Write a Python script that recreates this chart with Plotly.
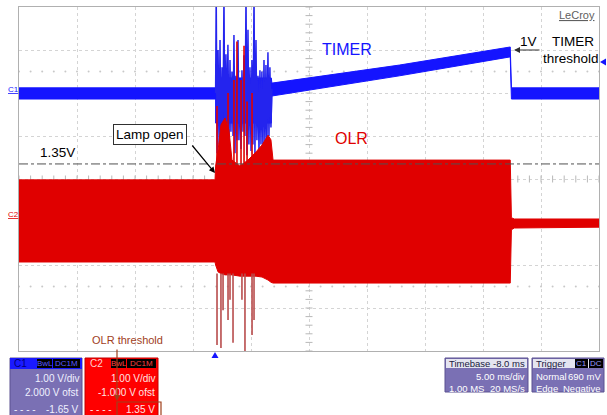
import plotly.graph_objects as go

# scope settings
C1_OFST = 2.0     # V, 1.00 V/div
C2_OFST = -1.0    # V, 1.00 V/div
T_LEFT, T_RIGHT = -17, 33   # ms, 5 ms/div, delay -8 ms

# C1 = TIMER, envelope of the noisy trace (V)
c1_t = [-17, -0.05, -0.05, 4.75, 4.8, 8.0, 15.8, 25.35, 25.45, 33]
c1_hi = [0.12, 0.12, 0.35, 0.35, 0.23, 0.35, 0.65, 1.07, 0.12, 0.12]
c1_lo = [-0.14, -0.14, -0.70, -0.70, -0.07, 0.07, 0.40, 0.84, -0.14, -0.14]

# C1 ringing while the lamp opens
c1_spk_t = [-0.05, 0.0, 0.08, 0.16, 0.25, 0.33, 0.41, 0.5, 0.58, 0.67,
            0.75, 0.84, 0.93, 1.01, 1.1, 1.19, 1.27, 1.36, 1.45, 1.53,
            1.62, 1.7, 1.79, 1.88, 1.96, 2.05, 2.14, 2.22, 2.31, 2.39,
            2.48, 2.57, 2.65, 2.74, 2.82, 2.91, 3.0, 3.08, 3.17, 3.26,
            3.34, 3.43, 3.51, 3.6, 3.69, 3.77, 3.86, 3.94, 4.03, 4.12,
            4.2, 4.29, 4.37, 4.46, 4.55, 4.63, 4.72, 4.8]
c1_spk_v = [0.0, 2.3, -1.4, 1.0, -1.2, 1.23, -1.33, 0.6, -1.1, 2.3,
            -1.44, 0.9, -0.8, 1.12, -1.2, 0.77, -0.9, 0.5, -1.0, 1.35,
            -1.4, 0.4, -1.1, 1.23, -1.1, 0.3, -1.3, 0.53, -0.9, 0.88,
            -1.0, 2.3, -1.45, 1.47, -1.2, 0.6, -1.35, 0.77, -1.2, 2.3,
            -1.45, 1.23, -1.1, 0.4, -1.4, 0.53, -1.2, 0.5, -1.3, 0.77,
            -1.2, 0.65, -1.35, 0.95, -1.0, 0.6, -0.8, 0.1]

# C2 = OLR, envelope (V)
c2_t = [-17, -0.1, -0.05, 0.16, 0.41, 0.76, 1.10, 1.36, 2.05, 2.74,
        3.43, 3.95, 4.47, 4.72, 4.90, 25.35, 25.45, 25.7, 33]
c2_hi = [0.98, 0.98, 1.30, 1.67, 2.26, 2.42, 2.14, 1.44, 1.30, 1.44,
         1.63, 1.79, 2.02, 1.91, 1.44, 1.44, 0.10, 0.07, 0.07]
c2_lo = [-0.93, -0.93, -1.00, -1.16, -1.20, -1.23, -1.23, -1.23, -1.26, -1.26,
         -1.26, -1.28, -1.35, -1.40, -1.42, -1.42, -0.18, -0.14, -0.12]

# C2 spikes
c2_up_t = [0.07, 1.02, 1.53, 1.79, 2.14, 2.40, 2.66, 3.09]
c2_up_v = [2.7, 3.0, 3.3, 4.2, 3.3, 4.1, 2.8, 3.0]
c2_dn_t = [0.07, 0.41, 0.59, 1.02, 1.19, 1.45, 2.22, 2.48, 3.09, 3.26]
c2_dn_v = [-2.86, -2.93, -2.05, -2.28, -1.81, -2.81, -1.81, -3.3, -2.63, -2.28]

OLR_THRESHOLD = 1.35
TIMER_THRESHOLD = 1.0

BLUE = "#1414ff"
RED = "#e00000"
FONT = "Liberation Sans"

# pixel helpers for layout decorations
L, R, T, B = 19, 599, 7, 351


def px(x):
    return (x - L) / (R - L)


def py(y):
    return (B - y) / (B - T)


def c1(vals):
    return [v + C1_OFST for v in vals]


def c2(vals):
    return [v + C2_OFST for v in vals]


def segs(ts, base, tips):
    xs, ys = [], []
    for t, v in zip(ts, tips):
        xs += [t, t, None]
        ys += [base, v, None]
    return xs, ys


fig = go.Figure()

# grid decoration: centre cross ticks and dotted rows
tick_x = [T_LEFT + i * 1.0 for i in range(51)]
tick_y = [-4 + i * 0.2 for i in range(41)]
fig.add_trace(go.Scatter(x=tick_x, y=[0] * len(tick_x), mode="markers",
                         marker=dict(symbol="line-ns-open", size=5, color="#b8b8b8", line=dict(width=1)),
                         hoverinfo="skip", showlegend=False))
fig.add_trace(go.Scatter(x=[8] * len(tick_y), y=tick_y, mode="markers",
                         marker=dict(symbol="line-ew-open", size=5, color="#b8b8b8", line=dict(width=1)),
                         hoverinfo="skip", showlegend=False))
for row in (2.5, -2.5):
    fig.add_trace(go.Scatter(x=tick_x, y=[row] * len(tick_x), mode="markers",
                             marker=dict(symbol="circle", size=2, color="#c8c8c8"),
                             hoverinfo="skip", showlegend=False))

# C1 trace
fig.add_trace(go.Scatter(x=c1_t + c1_t[::-1], y=c1(c1_hi) + c1(c1_lo)[::-1],
                         fill="toself", fillcolor=BLUE, mode="lines",
                         line=dict(color=BLUE, width=1), hoverinfo="skip", showlegend=False))
fig.add_trace(go.Scatter(x=c1_spk_t, y=c1(c1_spk_v), mode="lines",
                         line=dict(color="#2424ee", width=1.5), hoverinfo="skip", showlegend=False))

# C2 trace
fig.add_trace(go.Scatter(x=c2_t + c2_t[::-1], y=c2(c2_hi) + c2(c2_lo)[::-1],
                         fill="toself", fillcolor=RED, mode="lines",
                         line=dict(color=RED, width=1), hoverinfo="skip", showlegend=False))
ux, uy = segs(c2_up_t, 1.3 + C2_OFST, c2(c2_up_v))
fig.add_trace(go.Scatter(x=ux, y=uy, mode="lines", line=dict(color=RED, width=1.6),
                         hoverinfo="skip", showlegend=False))
dx, dy = segs(c2_dn_t, -1.2 + C2_OFST, c2(c2_dn_v))
fig.add_trace(go.Scatter(x=dx, y=dy, mode="lines", line=dict(color="#b84c4c", width=1.6),
                         hoverinfo="skip", showlegend=False))

shapes = []
# OLR threshold level
shapes.append(dict(type="line", xref="x", yref="y", x0=T_LEFT, x1=T_RIGHT,
                   y0=OLR_THRESHOLD + C2_OFST, y1=OLR_THRESHOLD + C2_OFST,
                   line=dict(color="#505050", width=1, dash="dashdot")))


def rect(x0, y0, x1, y1, fill, line=None, lw=0):
    return dict(type="rect", xref="paper", yref="paper", x0=px(x0), x1=px(x1),
                y0=py(y1), y1=py(y0), fillcolor=fill, layer="above",
                line=dict(color=line or fill, width=lw))


annots = []


def txt(s, x, y, size=10, color="white", xa="center", ya="middle", **kw):
    annots.append(dict(text=s, x=px(x), y=py(y), xref="paper", yref="paper",
                       showarrow=False, xanchor=xa, yanchor=ya,
                       font=dict(family=FONT, size=size, color=color), **kw))


def arrow(x, y, ax, ay, color="black"):
    annots.append(dict(text="", x=px(x), y=py(y), xref="paper", yref="paper",
                       showarrow=True, ax=ax, ay=ay, arrowhead=2, arrowsize=1,
                       arrowwidth=1.2, arrowcolor=color))


PURPLE = "#7a70b4"
# C1 info box
shapes.append(rect(10, 358, 82, 417, PURPLE, "#5a5090", 1))
shapes.append(rect(10, 358, 82, 369, "#1a1aff"))
shapes.append(rect(37, 359, 52, 368, "black"))
shapes.append(rect(53, 359, 80, 368, "black"))
txt("C1", 12, 363.5, 10, "#00007a", xa="left")
txt("BwL", 44.5, 363.5, 8, "#5a5aff")
txt("DC1M", 66.5, 363.5, 8, "#5a5aff")
txt("1.00 V/div", 81, 378, color="#f0f0ff", xa="right")
txt("2.000 V ofst", 81, 392, color="#f0f0ff", xa="right")
txt("- - - -", 12, 409, color="#f0f0ff", xa="left")
txt("-1.65 V", 81, 409, color="#f0f0ff", xa="right")

# C2 info box
shapes.append(rect(85, 358, 158, 417, "#ff0000", "#c00000", 1))
shapes.append(rect(111, 359, 126, 368, "black"))
shapes.append(rect(127, 359, 156, 368, "black"))
txt("C2", 88, 363.5, 10, "#ffd0d0", xa="left")
txt("BwL", 118.5, 363.5, 8, "#ff4040")
txt("DC1M", 141.5, 363.5, 8, "#ff4040")
txt("1.00 V/div", 157, 378, color="#ffe4e4", xa="right")
txt("-1.000 V ofst", 157, 392, color="#ffe4e4", xa="right")
txt("- - - -", 88, 409, color="#ffe4e4", xa="left")
txt("1.35 V", 157, 409, color="#ffe4e4", xa="right")
shapes.append(dict(type="rect", xref="paper", yref="paper", x0=px(117), x1=px(161),
                   y0=py(417), y1=py(402), line=dict(color="#a0401c", width=1.2), layer="above"))

# Timebase box
shapes.append(rect(445, 358, 528, 392, PURPLE, "#5a5090", 1))
shapes.append(rect(446, 359, 527, 368, "#e4e4f0"))
txt("Timebase", 447, 363.5, 9.5, "#202040", xa="left")
txt("-8.0 ms", 527, 363.5, 9.5, "#202040", xa="right")
txt("5.00 ms/div", 527, 377, 9.5, xa="right")
txt("1.00 MS", 447, 388, 9.5, xa="left")
txt("20 MS/s", 527, 388, 9.5, xa="right")

# Trigger box
shapes.append(rect(532, 358, 604, 392, PURPLE, "#5a5090", 1))
shapes.append(rect(533, 359, 603, 368, "#e4e4f0"))
shapes.append(rect(575, 359, 588, 368, "black"))
shapes.append(rect(589, 359, 603, 368, "black"))
txt("Trigger", 534, 363.5, 9.5, "#202040", xa="left")
txt("C1", 581.5, 363.5, 8, "#9a9aff")
txt("DC", 596, 363.5, 8, "#9a9aff")
txt("Normal", 534, 377, 9.5, xa="left")
txt("690 mV", 603, 377, 9.5, xa="right")
txt("Edge", 534, 388, 9.5, xa="left")
txt("Negative", 603, 388, 9.5, xa="right")

# channel markers
txt("<u>C1</u>", 13, 89, 8, BLUE)
txt("<u>C2</u>", 13, 214, 8, RED)
shapes.append(dict(type="path", xref="paper", yref="paper", fillcolor=BLUE, line=dict(width=0),
                   path=f"M {px(600)} {py(62)} L {px(606)} {py(58.5)} L {px(606)} {py(65.5)} Z"))
shapes.append(dict(type="path", xref="paper", yref="paper", fillcolor=BLUE, line=dict(width=0),
                   path=f"M {px(215)} {py(352)} L {px(211.5)} {py(358)} L {px(218.5)} {py(358)} Z"))

# chart labels
txt("<u>LeCroy</u>", 597, 15, 11, "#606060", xa="right")
txt("TIMER", 347, 49, 16, BLUE)
txt("OLR", 351, 138, 16, RED)
txt("1.35V", 57, 152, 13.5, "black")
txt("Lamp open", 150, 134, 13.5, "black", bgcolor="white", bordercolor="#303030",
    borderwidth=1, borderpad=2)
arrow(215, 173, -24, -29)
txt("1V", 528, 42, 13.5, "black")
txt("TIMER", 573, 42, 13.5, "black")
txt("threshold", 571, 58, 13.5, "black")
arrow(514, 50, 27, 0, "#303030")
txt("OLR threshold", 127, 340, 11, "#a0401c")
arrow(117, 401, 0, -53, "#a0401c")

fig.update_layout(
    width=607, height=415,
    margin=dict(l=L, r=607 - R, t=T, b=415 - B),
    paper_bgcolor="white", plot_bgcolor="white",
    shapes=shapes, annotations=annots,
    showlegend=False,
    xaxis=dict(range=[T_LEFT, T_RIGHT], tick0=T_LEFT, dtick=5, showticklabels=False,
               showgrid=True, gridcolor="#d4d4d4", griddash="dot", gridwidth=1,
               zeroline=False, showline=True, linecolor="#b0b0b0", mirror=True, ticks=""),
    yaxis=dict(range=[-4, 4], dtick=1, showticklabels=False,
               showgrid=True, gridcolor="#d4d4d4", griddash="dot", gridwidth=1,
               zeroline=False, showline=True, linecolor="#b0b0b0", mirror=True, ticks=""),
)

# the page is photographed at 607x415: drop the default body margin
fig.write_html("out.html", config={"displayModeBar": False},
               post_script="document.body.style.margin='0';")
